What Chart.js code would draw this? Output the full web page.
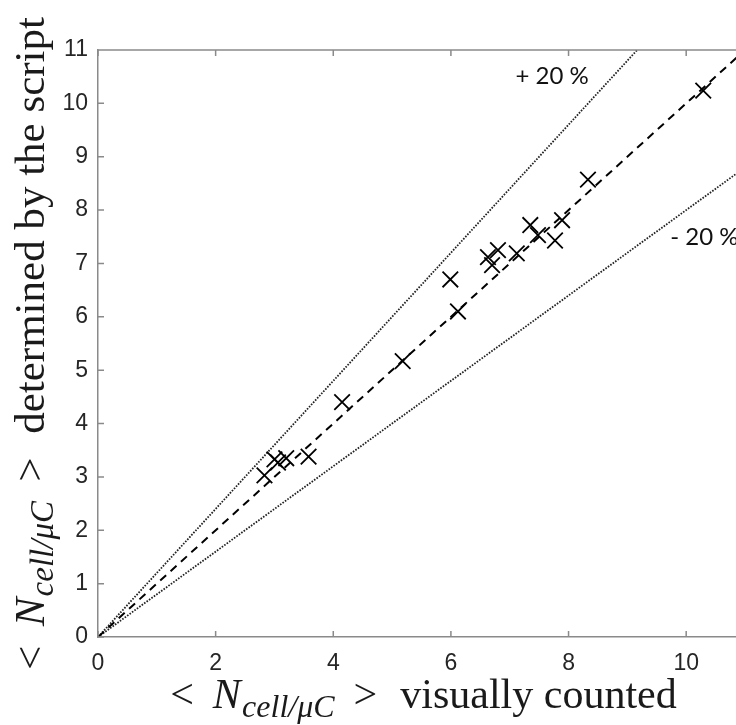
<!DOCTYPE html>
<html>
<head>
<meta charset="utf-8">
<script src="https://cdn.jsdelivr.net/npm/chart.js@4"></script>
<style>
  html, body { margin: 0; padding: 0; background: #fff; overflow: hidden; }
  #wrap { position: relative; width: 760px; height: 725px; }
</style>
</head>
<body>
<div id="wrap"><canvas id="scatterChart"></canvas></div>
<script>
// visually counted vs. determined by the script
const visualCount = [2.83, 3.0, 3.06, 3.2, 3.58, 4.15, 5.18, 5.99, 6.12, 6.63, 6.7, 6.8, 7.12, 7.35, 7.48, 7.77, 7.89, 8.33, 10.29];
const scriptCount = [3.03, 3.33, 3.27, 3.35, 3.38, 4.4, 5.17, 6.7, 6.1, 7.12, 6.97, 7.25, 7.19, 7.72, 7.53, 7.43, 7.81, 8.57, 10.24];

// reference lines: y = ratio * x
const refRange = [0, 11];
const refRatios = [1, 1.2, 0.8];
const refLabels = ["", "+ 20 %", "- 20 %"];

const xTicks = [0, 2, 4, 6, 8, 10];
const yTicks = [0, 1, 2, 3, 4, 5, 6, 7, 8, 9, 10, 11];

const axisColor = "#8a8a8a";
const tickColor = "#262626";

const points = visualCount.map((v, i) => ({ x: v, y: scriptCount[i] }));
const refLine = (r) => refRange.map((x) => ({ x: x, y: x * r }));

// draws "< N_cell/μC > ..." like the latex label
const drawMathTitle = (ctx, rest, cx, baseline, size) => {
  const serif = '"Liberation Serif", "Times New Roman", serif';
  const parts = [
    { t: "<", f: `${size}px ${serif}`, dy: 0, gap: 0.45 },
    { t: "N", f: `italic ${size}px ${serif}`, dy: 0, gap: 0.03 },
    { t: "cell/μC", f: `italic ${Math.round(size * 0.76)}px ${serif}`, dy: size * 0.22, gap: 0.45 },
    { t: ">", f: `${size}px ${serif}`, dy: 0, gap: 0.3 },
    { t: rest, f: `${size}px ${serif}`, dy: 0, gap: 0 },
  ];
  let total = 0;
  parts.forEach((p) => {
    ctx.font = p.f;
    p.w = ctx.measureText(p.t).width;
    total += p.w + p.gap * size;
  });
  let x = cx - total / 2;
  ctx.fillStyle = "#1a1a1a";
  ctx.textAlign = "left";
  ctx.textBaseline = "alphabetic";
  parts.forEach((p) => {
    ctx.font = p.f;
    ctx.fillText(p.t, x, baseline + p.dy);
    x += p.w + p.gap * size;
  });
};

const boxPlugin = {
  id: "matlabBox",
  afterDraw(chart) {
    const { ctx, chartArea, scales } = chart;
    const { left, right, top, bottom } = chartArea;
    ctx.save();
    ctx.strokeStyle = axisColor;
    ctx.lineWidth = 1.5;
    ctx.beginPath();
    ctx.moveTo(left, top);
    ctx.lineTo(right, top);
    ctx.lineTo(right, bottom);
    // inward tick marks
    xTicks.forEach((v) => {
      const px = scales.x.getPixelForValue(v);
      ctx.moveTo(px, bottom);
      ctx.lineTo(px, bottom - 6);
      ctx.moveTo(px, top);
      ctx.lineTo(px, top + 6);
    });
    yTicks.forEach((v) => {
      const py = scales.y.getPixelForValue(v);
      ctx.moveTo(left, py);
      ctx.lineTo(left + 6, py);
      ctx.moveTo(right, py);
      ctx.lineTo(right - 6, py);
    });
    ctx.stroke();

    // +/- 20 % notes
    ctx.fillStyle = "#111";
    ctx.font = '24px Lato, "Open Sans", sans-serif';
    ctx.textBaseline = "middle";
    ctx.textAlign = "center";
    ctx.fillText(refLabels[1], scales.x.getPixelForValue(7.72), scales.y.getPixelForValue(10.5));
    ctx.textAlign = "left";
    ctx.fillText(refLabels[2], scales.x.getPixelForValue(9.73), scales.y.getPixelForValue(7.49));

    // axis titles
    drawMathTitle(ctx, " visually counted", (left + right) / 2 + 2, 708, 42);
    ctx.translate(44, (top + bottom) / 2);
    ctx.rotate(-Math.PI / 2);
    drawMathTitle(ctx, " determined by the script", 0, 0, 43);
    ctx.restore();
  },
};

const scatterChart = new Chart(document.getElementById("scatterChart"), {
  type: "scatter",
  data: {
    datasets: [
      {
        label: "measurements",
        data: points,
        pointStyle: "crossRot",
        pointRadius: 11,
        pointHoverRadius: 11,
        borderColor: "#000",
        backgroundColor: "#000",
        borderWidth: 1.8,
        order: 0,
      },
      {
        label: "y = x",
        data: refLine(refRatios[0]),
        showLine: true,
        pointRadius: 0,
        borderColor: "#000",
        borderWidth: 2,
        borderDash: [8, 6],
        order: 1,
      },
      {
        label: "+20 %",
        data: refLine(refRatios[1]),
        showLine: true,
        pointRadius: 0,
        borderColor: "#222",
        borderWidth: 1.8,
        borderDash: [1.6, 1.4],
        order: 2,
      },
      {
        label: "-20 %",
        data: refLine(refRatios[2]),
        showLine: true,
        pointRadius: 0,
        borderColor: "#222",
        borderWidth: 1.8,
        borderDash: [1.6, 1.4],
        order: 3,
      },
    ],
  },
  options: {
    responsive: true,
    maintainAspectRatio: false,
    animation: false,
    layout: { padding: { left: 0, top: 50, right: 15, bottom: 0 } },
    plugins: {
      legend: { display: false },
      tooltip: { enabled: false },
    },
    scales: {
      x: {
        type: "linear",
        min: 0,
        max: 11,
        afterFit: (scale) => {
          scale.height = 88;
        },
        border: { display: true, color: axisColor, width: 1.5 },
        grid: { display: false, drawTicks: false },
        ticks: {
          stepSize: 2,
          includeBounds: false,
          padding: 13,
          color: tickColor,
          font: { family: '"Liberation Sans", Arial, sans-serif', size: 23 },
          maxRotation: 0,
        },
      },
      y: {
        type: "linear",
        min: 0,
        max: 11,
        afterFit: (scale) => {
          scale.width = 98;
        },
        border: { display: true, color: axisColor, width: 1.5 },
        grid: { display: false, drawTicks: false },
        ticks: {
          stepSize: 1,
          padding: 10,
          color: tickColor,
          font: { family: '"Liberation Sans", Arial, sans-serif', size: 23 },
        },
      },
    },
  },
  plugins: [boxPlugin],
});
</script>
</body>
</html>
